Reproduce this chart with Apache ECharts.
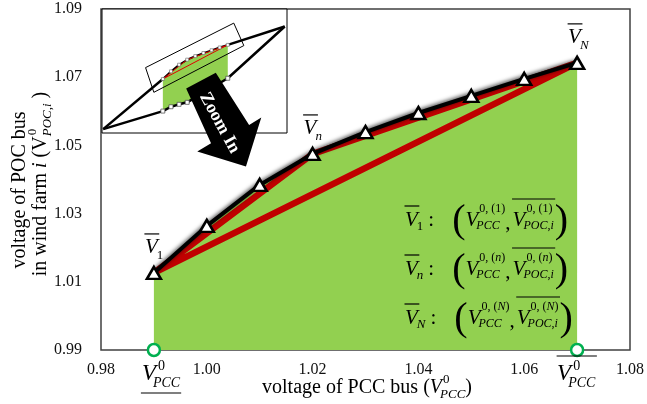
<!DOCTYPE html>
<html><head><meta charset="utf-8">
<script src="https://cdn.jsdelivr.net/npm/echarts@6/dist/echarts.min.js"></script>
<style>html,body{margin:0;padding:0;background:#fff}#c{width:647px;height:404px}</style>
</head><body><div id="c"></div>
<script>
// ---- data ----
const pccV = [0.99, 1.00, 1.01, 1.02, 1.03, 1.04, 1.05, 1.06, 1.07];
const pocV = [1.0126, 1.0264, 1.0384, 1.0475, 1.0539, 1.0595, 1.0645, 1.0695, 1.0742];
const keyIdx = [0, 3, 8];
const keyNames = ['1', 'n', 'N'];
const pccBounds = [0.99, 1.07];
const xRange = [0.98, 1.08, 0.02];
const yRange = [0.99, 1.09, 0.02];
// inset (zoomed-out sketch)
const insetRangeX = [0.915, 1.143];
const insetRangeY = [0.915, 1.139];
const lensStart = [0.9165, 0.9220];
const lensEnd = [1.1402, 1.1073];
const lowerX = [0.99, 1.00, 1.01, 1.02, 1.07];
const lowerY = [0.9546, 0.9624, 0.9668, 0.9704, 1.0139];
const zoomBoxX = [0.9687, 1.0774, 1.0898, 0.9789, 0.9687];
const zoomBoxY = [1.0331, 1.1135, 1.0729, 0.9885, 1.0331];
// arrow annotation (main-axis units)
const arrowX = [0.9961, 1.0017, 1.0080, 1.0103, 1.0074, 0.9982, 1.0008];
const arrowY = [1.0667, 1.0713, 1.0560, 1.0582, 1.0438, 1.0482, 1.0506];
const arrowText = 'Zoom In';
const arrowTextAt = [1.0024, 1.0566];

// ---- helpers ----
const FONT = '"Liberation Serif","Times New Roman",serif';
const mctx = document.createElement('canvas').getContext('2d');
function tw(t, s, it, b) { mctx.font = (it ? 'italic ' : '') + (b ? 'bold ' : '') + s + 'px ' + FONT; return mctx.measureText(t).width; }
function T(x, y, t, s, it) { return {type: 'text', x: x, y: y, z: 100, style: {text: t, fontSize: s, fontFamily: FONT, fontStyle: it ? 'italic' : 'normal', fill: '#000', align: 'left', verticalAlign: 'middle'}}; }
function L(x1, y1, x2, y2, w) { return {type: 'line', x: 0, y: 0, z: 100, shape: {x1: x1, y1: y1, x2: x2, y2: y2}, style: {stroke: '#000', lineWidth: w || 1.2}}; }
function segs(els, x, y, arr, s) { let w = 0; for (const [t, it] of arr) { els.push(T(x + w, y, t, s, it)); w += tw(t, s, it); } return w; }
function layout(tokens) {
  const els = []; let x = 0;
  for (const k of tokens) {
    if (k.gap != null) { x += k.gap; continue; }
    if (k.V) {
      const it = k.it !== false;
      const wv = tw(k.V, k.s, it);
      els.push(T(x, 0, k.V, k.s, it));
      let w2 = 0;
      if (k.sup) w2 = Math.max(w2, (k.supDx || 0) + segs(els, x + wv + (k.supDx || 0), k.supDy, k.sup, k.ss));
      if (k.sub) w2 = Math.max(w2, (k.subDx || 0) + segs(els, x + wv + (k.subDx || 0), k.subDy, k.sub, k.ss));
      const adv = wv + w2;
      if (k.over != null) { const e = k.overV ? wv : adv; els.push(L(x - 0.5, k.over, x + e + 1.5, k.over)); }
      if (k.under != null) els.push(L(x - 1, k.under, x + adv + 1, k.under));
      x += adv;
    } else {
      els.push(T(x, k.dy || 0, k.t, k.s, k.it));
      x += tw(k.t, k.s, k.it);
    }
  }
  return {els: els, w: x};
}
function group(x, y, lay, o) {
  o = o || {};
  const dx = o.center ? -lay.w / 2 : 0;
  lay.els.forEach(e => { e.x += dx; });
  return {type: 'group', x: x, y: y, rotation: o.rot || 0, children: lay.els};
}

const chart = echarts.init(document.getElementById('c'), null, {renderer: 'canvas'});
const mainPts = pccV.map((x, i) => [x, pocV[i]]);
const keyPts = keyIdx.map(i => mainPts[i]);
const axisLbl = {color: '#111', fontSize: 16, fontFamily: FONT, formatter: v => v.toFixed(2)};

chart.setOption({
  animation: false,
  backgroundColor: '#fff',
  grid: [
    {left: 101, top: 9, right: 14, bottom: 54, show: true, borderColor: '#404040', borderWidth: 1.5, backgroundColor: 'transparent'},
    {left: 102, top: 9, width: 185, height: 124, show: true, borderColor: '#000', borderWidth: 1, backgroundColor: '#fff'}
  ],
  xAxis: [
    {type: 'value', gridIndex: 0, min: xRange[0], max: xRange[1], interval: xRange[2],
     axisLine: {show: false}, axisTick: {show: false}, splitLine: {show: false},
     axisLabel: Object.assign({margin: 12}, axisLbl)},
    {type: 'value', gridIndex: 1, min: insetRangeX[0], max: insetRangeX[1], show: false, splitLine: {show: false}}
  ],
  yAxis: [
    {type: 'value', gridIndex: 0, min: yRange[0], max: yRange[1], interval: yRange[2],
     axisLine: {show: false}, axisTick: {show: false}, splitLine: {show: false},
     axisLabel: Object.assign({margin: 19}, axisLbl)},
    {type: 'value', gridIndex: 1, min: insetRangeY[0], max: insetRangeY[1], show: false, splitLine: {show: false}}
  ],
  series: [
    {type: 'line', data: mainPts, symbol: 'none', lineStyle: {width: 0}, areaStyle: {color: '#92D050', opacity: 1, origin: 'start'}, z: 1},
    {type: 'line', data: keyPts.concat([keyPts[0]]), symbol: 'none', lineStyle: {color: '#C00000', width: 6.5, join: 'miter'}, z: 2},
    {type: 'line', data: mainPts, symbol: 'none', lineStyle: {color: '#000', width: 4, shadowBlur: 4, shadowColor: 'rgba(0,0,0,0.8)', shadowOffsetY: -1}, z: 3},
    {type: 'scatter', data: mainPts, symbol: 'triangle', symbolSize: [14, 12], itemStyle: {color: '#fff', borderColor: '#000', borderWidth: 2.5, opacity: 1}, z: 5, clip: false},
    {type: 'scatter', data: pccBounds.map(x => [x, yRange[0]]), symbol: 'circle', symbolSize: 12, itemStyle: {color: '#fff', borderColor: '#00B050', borderWidth: 2.5, opacity: 1}, z: 6, clip: false},
    {type: 'custom', data: [arrowTextAt], z: 20, clip: false,
     renderItem: (params, api) => {
       const pts = arrowX.map((x, i) => api.coord([x, arrowY[i]]));
       const c = api.coord(arrowTextAt);
       const a = [(pts[0][0] + pts[1][0]) / 2, (pts[0][1] + pts[1][1]) / 2];
       const b = [(pts[2][0] + pts[6][0]) / 2, (pts[2][1] + pts[6][1]) / 2];
       const ang = Math.atan2(b[1] - a[1], b[0] - a[0]);
       return {type: 'group', children: [
         {type: 'polygon', shape: {points: pts}, style: {fill: '#000'}},
         {type: 'text', x: c[0], y: c[1], rotation: -ang, style: {text: arrowText, fill: '#fff', fontSize: 18, fontWeight: 'bold', fontFamily: FONT, align: 'center', verticalAlign: 'middle'}}
       ]};
     }},
    // inset
    {type: 'custom', xAxisIndex: 1, yAxisIndex: 1, data: [mainPts[0]], z: 2,
     renderItem: (params, api) => {
       const up = pccV.map((x, i) => api.coord([x, pocV[i]]));
       const lo = lowerX.map((x, i) => api.coord([x, lowerY[i]])).reverse();
       return {type: 'polygon', shape: {points: up.concat(lo)}, style: {fill: '#92D050'}};
     }},
    {type: 'line', xAxisIndex: 1, yAxisIndex: 1, data: [lensStart, mainPts[0]], symbol: 'none', lineStyle: {color: '#000', width: 2.5}, z: 3},
    {type: 'line', xAxisIndex: 1, yAxisIndex: 1, data: [mainPts[mainPts.length - 1], lensEnd], symbol: 'none', lineStyle: {color: '#000', width: 2.5}, z: 3},
    {type: 'line', xAxisIndex: 1, yAxisIndex: 1, data: [lensStart].concat(lowerX.map((x, i) => [x, lowerY[i]]), [lensEnd]), symbol: 'none', lineStyle: {color: '#000', width: 2.5}, z: 3},
    {type: 'line', xAxisIndex: 1, yAxisIndex: 1, data: mainPts, symbol: 'none', lineStyle: {color: '#000', width: 1.8}, z: 3},
    {type: 'line', xAxisIndex: 1, yAxisIndex: 1, data: keyPts.concat([keyPts[0]]), symbol: 'none', lineStyle: {color: '#E00000', width: 1}, z: 4},
    {type: 'scatter', xAxisIndex: 1, yAxisIndex: 1, data: mainPts, symbol: 'rect', symbolSize: 3, itemStyle: {color: '#fff', borderColor: '#666', borderWidth: 0.6, opacity: 1}, z: 5},
    {type: 'scatter', xAxisIndex: 1, yAxisIndex: 1, data: lowerX.map((x, i) => [x, lowerY[i]]), symbol: 'rect', symbolSize: 4, itemStyle: {color: '#fff', borderColor: '#444', borderWidth: 0.7, opacity: 1}, z: 5},
    {type: 'line', xAxisIndex: 1, yAxisIndex: 1, data: zoomBoxX.map((x, i) => [x, zoomBoxY[i]]), symbol: 'none', lineStyle: {color: '#000', width: 1}, z: 6}
  ]
});

// ---- math text annotations ----
const g = [];
const px = p => chart.convertToPixel({xAxisIndex: 0, yAxisIndex: 0}, p);
keyIdx.forEach((idx, k) => {
  const p = px(mainPts[idx]);
  const nm = keyNames[k];
  g.push(group(p[0] - 9, p[1] - 25, layout([{V: 'V', s: 21, ss: 13, sub: [[nm, nm !== '1']], subDx: -1, subDy: 8, over: -14, overV: true}])));
});
const rowY = [220, 269, 318];
keyNames.forEach((nm, k) => {
  const nIt = nm !== '1';
  const sup = [['0, (', false], [nm, nIt], [')', false]];
  g.push(group(405, rowY[k], layout([
    {V: 'V', s: 21, ss: 13, sub: [[nm, nIt]], subDx: -1, subDy: 7, over: -14, overV: true},
    {gap: 5}, {t: ':', s: 21}, {gap: 18},
    {t: '(', s: 40, dy: 1},
    {V: 'V', s: 21, ss: 12, sup: sup, supDx: 1, supDy: -11, sub: [['PCC', true]], subDx: -2, subDy: 6},
    {t: ',', s: 21, dy: 3}, {gap: 2},
    {V: 'V', s: 21, ss: 12, sup: sup, supDx: 1, supDy: -11, sub: [['POC', true], [',', false], ['i', true]], subDx: -2, subDy: 6, over: -21},
    {gap: 1}, {t: ')', s: 40, dy: 1}
  ])));
});
// bounds under x axis
const lb = px([pccBounds[0], yRange[0]]);
const rb = px([pccBounds[1], yRange[0]]);
g.push(group(lb[0] - 12, 374, layout([{V: 'V', s: 23, ss: 14, sup: [['0', false]], supDx: 2, supDy: -8, sub: [['PCC', true]], subDx: -3, subDy: 9, under: 19}])));
g.push(group(rb[0] - 20, 374, layout([{V: 'V', s: 23, ss: 14, sup: [['0', false]], supDx: 2, supDy: -8, sub: [['PCC', true]], subDx: -3, subDy: 9, over: -18}])));
// axis titles
g.push(group(367, 388, layout([
  {t: 'voltage of PCC bus (', s: 20},
  {V: 'V', s: 20, ss: 13, sup: [['0', false]], supDx: 1, supDy: -8, sub: [['PCC', true]], subDx: -2, subDy: 7},
  {t: ')', s: 20}
]), {center: true}));
g.push(group(20, 190, layout([{t: 'voltage of POC bus', s: 20}]), {center: true, rot: Math.PI / 2}));
g.push(group(41, 184, layout([
  {t: 'in wind farm ', s: 20}, {t: 'i', s: 20, it: true}, {t: ' (', s: 20},
  {V: 'V', s: 20, it: false, ss: 13, sup: [['0', false]], supDx: 1, supDy: -8, sub: [['POC', true], [',', false], ['i', true]], subDx: 0, subDy: 7},
  {t: ' )', s: 20}
]), {center: true, rot: Math.PI / 2}));

chart.setOption({graphic: {elements: g}});
</script>
</body></html>
